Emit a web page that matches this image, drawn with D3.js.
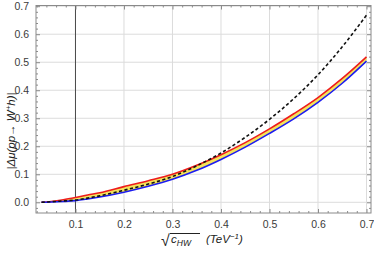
<!DOCTYPE html>
<html>
<head>
<meta charset="utf-8">
<script src="https://cdn.jsdelivr.net/npm/d3@7"></script>
<style>
  html, body { margin: 0; padding: 0; background: #fff; }
  svg { display: block; }
  text { font-family: "Liberation Sans", Arial, sans-serif; }
</style>
</head>
<body>
<svg id="chart" width="374" height="255"></svg>
<script>
// ---- data ----
const xVals      = [0.03, 0.05, 0.075, 0.1, 0.125, 0.15, 0.2, 0.25, 0.3, 0.35, 0.4, 0.45, 0.5, 0.55, 0.6, 0.65, 0.7];
const upperRed   = [0.000, 0.003, 0.009, 0.017, 0.026, 0.034, 0.056, 0.077, 0.100, 0.132, 0.170, 0.213, 0.262, 0.316, 0.374, 0.442, 0.519];
const lowerBlue  = [0.000, 0.001, 0.003, 0.006, 0.012, 0.019, 0.036, 0.057, 0.082, 0.114, 0.153, 0.197, 0.246, 0.298, 0.357, 0.425, 0.504];
const dashedBlk  = [0.000, 0.002, 0.005, 0.008, 0.015, 0.023, 0.043, 0.065, 0.092, 0.130, 0.176, 0.232, 0.296, 0.370, 0.455, 0.555, 0.668];
const xTickVals  = [0.1, 0.2, 0.3, 0.4, 0.5, 0.6, 0.7];
const yTickVals  = [0.0, 0.1, 0.2, 0.3, 0.4, 0.5, 0.6, 0.7];
const refLineX   = 0.1;

// ---- layout ----
const L = 36, R = 371, T = 5.5, B = 213;
const x = d3.scaleLinear().domain([0.0186, 0.7093]).range([L, R]);
const y = d3.scaleLinear().domain([-0.0382, 0.7025]).range([B, T]);

const svg = d3.select("#chart");
const frameCol = "#8a8a8a";
const labelCol = "#3a3a3a";

// grid
const g = svg.append("g");
g.selectAll("line.gx").data(xTickVals).enter().append("line")
  .attr("x1", d => x(d)).attr("x2", d => x(d)).attr("y1", T).attr("y2", B)
  .attr("stroke", "#dcdcdc").attr("stroke-width", 1);
g.selectAll("line.gy").data(yTickVals).enter().append("line")
  .attr("x1", L).attr("x2", R).attr("y1", d => y(d)).attr("y2", d => y(d))
  .attr("stroke", "#dcdcdc").attr("stroke-width", 1);

// reference vertical line
svg.append("line")
  .attr("x1", x(refLineX)).attr("x2", x(refLineX)).attr("y1", T).attr("y2", B)
  .attr("stroke", "#4a4a4a").attr("stroke-width", 1);

// band + lines
const pts = xVals.map((v, i) => ({x: v, lo: lowerBlue[i], hi: upperRed[i], d: dashedBlk[i]}));
const curve = d3.curveMonotoneX;
svg.append("path").datum(pts)
  .attr("d", d3.area().curve(curve).x(d => x(d.x)).y0(d => y(d.lo)).y1(d => y(d.hi)))
  .attr("fill", "#f3e35a");
svg.append("path").datum(pts)
  .attr("d", d3.line().curve(curve).x(d => x(d.x)).y(d => y(d.hi)))
  .attr("fill", "none").attr("stroke", "#ee1c1c").attr("stroke-width", 1.6);
svg.append("path").datum(pts)
  .attr("d", d3.line().curve(curve).x(d => x(d.x)).y(d => y(d.lo)))
  .attr("fill", "none").attr("stroke", "#1c1cf0").attr("stroke-width", 1.6);
svg.append("path").datum(pts)
  .attr("d", d3.line().curve(curve).x(d => x(d.x)).y(d => y(d.d)))
  .attr("fill", "none").attr("stroke", "#111").attr("stroke-width", 1.6)
  .attr("stroke-dasharray", "3.2,2.4");

// axes (inward ticks)
const xMinor = d3.range(0.02, 0.7001, 0.02).filter(v => !xTickVals.some(t => Math.abs(t - v) < 1e-6));
const yMinor = d3.range(-0.02, 0.7001, 0.02).filter(v => !yTickVals.some(t => Math.abs(t - v) < 1e-6));

function styleAxis(sel) {
  sel.select(".domain").remove();
  sel.selectAll(".tick line").attr("stroke", frameCol);
  sel.selectAll(".tick text").attr("fill", labelCol).style("font-size", "10.5px")
     .style("font-family", "'Liberation Sans', Arial, sans-serif");
}
// bottom
svg.append("g").attr("transform", `translate(0,${B})`)
  .call(d3.axisBottom(x).tickValues(xTickVals).tickSize(-4).tickPadding(8).tickFormat(d3.format(".1f")))
  .call(styleAxis);
svg.append("g").attr("transform", `translate(0,${B})`)
  .call(d3.axisBottom(x).tickValues(xMinor).tickSize(-2).tickFormat(""))
  .call(styleAxis);
// top
svg.append("g").attr("transform", `translate(0,${T})`)
  .call(d3.axisTop(x).tickValues(xTickVals).tickSize(-4).tickFormat(""))
  .call(styleAxis);
svg.append("g").attr("transform", `translate(0,${T})`)
  .call(d3.axisTop(x).tickValues(xMinor).tickSize(-2).tickFormat(""))
  .call(styleAxis);
// left
svg.append("g").attr("transform", `translate(${L},0)`)
  .call(d3.axisLeft(y).tickValues(yTickVals).tickSize(-4).tickPadding(7).tickFormat(d3.format(".1f")))
  .call(styleAxis);
svg.append("g").attr("transform", `translate(${L},0)`)
  .call(d3.axisLeft(y).tickValues(yMinor).tickSize(-2).tickFormat(""))
  .call(styleAxis);
// right
svg.append("g").attr("transform", `translate(${R},0)`)
  .call(d3.axisRight(y).tickValues(yTickVals).tickSize(-4).tickFormat(""))
  .call(styleAxis);
svg.append("g").attr("transform", `translate(${R},0)`)
  .call(d3.axisRight(y).tickValues(yMinor).tickSize(-2).tickFormat(""))
  .call(styleAxis);

// frame
svg.append("rect").attr("x", L).attr("y", T).attr("width", R - L).attr("height", B - T)
  .attr("fill", "none").attr("stroke", frameCol).attr("stroke-width", 1);

// y label
const yl = svg.append("text")
  .attr("transform", "translate(15,131) rotate(-90)")
  .attr("text-anchor", "middle")
  .attr("fill", "#222").style("font-size", "11.5px").style("font-style", "italic");
yl.append("tspan").text("|Δμ(pp→ W");
yl.append("tspan").attr("dy", -4).style("font-size", "8px").text("+");
yl.append("tspan").attr("dy", 4).text("h)|");

// x label
const xl = svg.append("g");
xl.append("text").attr("x", 161).attr("y", 246).attr("fill", "#222")
  .style("font-size", "16px").text("√");
const cl = xl.append("text").attr("x", 171).attr("y", 243).attr("fill", "#222")
  .style("font-size", "11.5px").style("font-style", "italic");
cl.append("tspan").text("c");
cl.append("tspan").attr("dy", 2.5).style("font-size", "8.5px").text("HW");
xl.append("line").attr("x1", 170).attr("x2", 200).attr("y1", 233.5).attr("y2", 233.5)
  .attr("stroke", "#222").attr("stroke-width", 1);
const tl = xl.append("text").attr("x", 206).attr("y", 243).attr("fill", "#222")
  .style("font-size", "11.5px").style("font-style", "italic");
tl.append("tspan").text("(TeV");
tl.append("tspan").attr("dy", -4.5).style("font-size", "8px").text("−1");
tl.append("tspan").attr("dy", 4.5).text(")");
</script>
</body>
</html>
